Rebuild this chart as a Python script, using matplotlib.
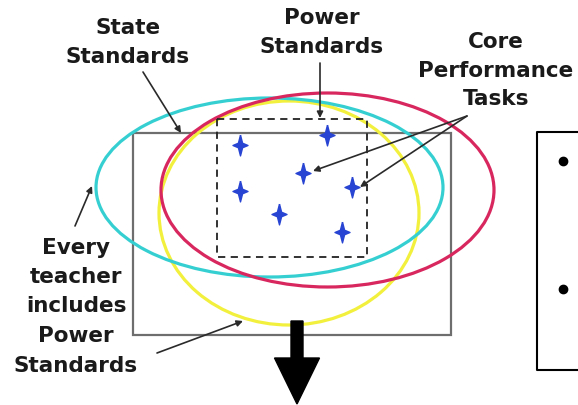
import matplotlib.pyplot as plt
from matplotlib.patches import Ellipse, Rectangle
from matplotlib.path import Path

# diagram layout (pixel units, y grows downward)
ellipse_names = ['every teacher', 'state', 'core']
ellipse_centers = [(289, 213), (269.5, 187.5), (327.5, 190)]
ellipse_sizes = [(260, 224), (347, 179), (333, 194)]
ellipse_colors = ['#f2f03c', '#35cfd2', '#d8275f']

star_x = [240, 327, 303, 240, 352, 279, 342]
star_y = [145, 135, 173, 191, 187, 214, 232]

labels = [
    (['State', 'Standards'], 128, [28, 57]),
    (['Power', 'Standards'], 322, [18, 47]),
    (['Core', 'Performance', 'Tasks'], 496, [42, 71, 99]),
    (['Every', 'teacher', 'includes', 'Power', 'Standards'], 76, [248, 277, 306, 336, 366]),
]

# (start, tip) of the thin pointer arrows
pointers = [
    ((143, 72), (181, 133)),
    ((320, 63), (320, 118)),
    ((467, 116), (313, 171)),
    ((467, 116), (360, 187)),
    ((75, 226), (92, 186)),
    ((157, 353), (243, 321)),
]

bullet_y = [161, 289]

fig = plt.figure(figsize=(5.78, 4.05), dpi=100)
ax = fig.add_axes([0, 0, 1, 1])
ax.set_xlim(0, 578)
ax.set_ylim(405, 0)
ax.axis('off')

# gray outer box
ax.add_patch(Rectangle((133, 133), 318, 202, fill=False, ec='#6e6e6e', lw=1.6, zorder=1))

for c, (w, h), col in zip(ellipse_centers, ellipse_sizes, ellipse_colors):
    ax.add_patch(Ellipse(c, w, h, fill=False, ec=col, lw=2.3, zorder=2))

# dashed power standards box
ax.add_patch(Rectangle((217, 119), 150, 138, fill=False, ec='#222222', lw=1.3,
                       ls=(0, (4, 3)), zorder=3))

# 4-pointed star marker
star = Path([(0, 1), (0.2, 0.22), (0.72, 0), (0.2, -0.22), (0, -1),
             (-0.2, -0.22), (-0.72, 0), (-0.2, 0.22), (0, 1)])
ax.plot(star_x, star_y, ls='none', marker=star, markersize=15,
        color='#2744d2', zorder=4)

for start, tip in pointers:
    ax.annotate('', xy=tip, xytext=start,
                arrowprops=dict(arrowstyle='-|>', color='#2a2a2a', lw=1.2,
                                mutation_scale=9, shrinkA=0, shrinkB=0),
                zorder=5)

for lines, x, ys in labels:
    for txt, y in zip(lines, ys):
        ax.text(x, y, txt, ha='center', va='center', fontsize=15.5,
                fontweight='bold', color='#1a1a1a', family='DejaVu Sans')

# big down arrow
ax.arrow(297, 321, 0, 83, width=12, head_width=45, head_length=46,
         length_includes_head=True, color='black', zorder=6)

# box on the right with bullets
ax.plot([590, 537, 537, 590], [132, 132, 370, 370], color='black', lw=1.5)
ax.plot([563] * len(bullet_y), bullet_y, 'o', color='black', markersize=6)

plt.savefig('out.png', dpi=100)
